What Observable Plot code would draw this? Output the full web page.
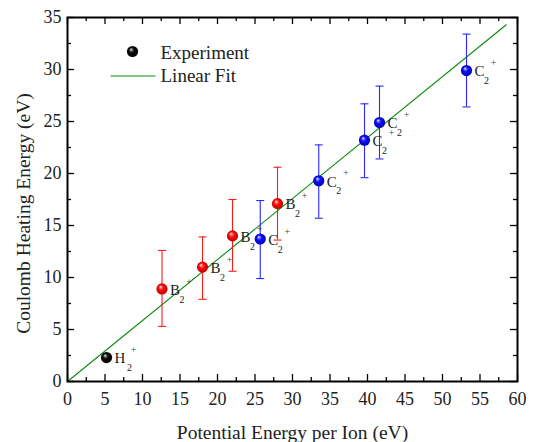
<!DOCTYPE html>
<html><head><meta charset="utf-8">
<script src="https://cdn.jsdelivr.net/npm/d3@7"></script>
<script src="https://cdn.jsdelivr.net/npm/@observablehq/plot@0.6"></script>
<style>body{margin:0;background:#fff}</style>
</head><body><div id="chart"></div>
<script>
// ---- data ----
const species = ["H","B","B","B","C","B","C","C","C","C"];
const energy  = [5.2, 12.6, 18.0, 22.0, 25.7, 28.0, 33.5, 39.6, 41.6, 53.2];
const heating = [2.3, 8.9, 11.0, 14.0, 13.7, 17.1, 19.3, 23.2, 24.9, 29.9];
const errLow  = [null, 5.3, 7.9, 10.6, 9.9, 13.6, 15.7, 19.6, 21.4, 26.4];
const errHigh = [null, 12.6, 13.9, 17.5, 17.4, 20.6, 22.75, 26.7, 28.4, 33.4];
const fitX = [0, 58.5];
const fitY = [0, 34.3];
const xTicks = [0,5,10,15,20,25,30,35,40,45,50,55,60];
const xMinor = [2.5,7.5,12.5,17.5,22.5,27.5,32.5,37.5,42.5,47.5,52.5,57.5];
const yTicks = [0,5,10,15,20,25,30,35];
const yMinor = [2.5,7.5,12.5,17.5,22.5,27.5,32.5];
const subText = "2";
const supText = "+";
const legendLabels = ["Experiment", "Linear Fit"];
const xTitle = "Potential Energy per Ion (eV)";
const yTitle = "Coulomb Heating Energy (eV)";

const data = species.map((s, i) => ({s, x: energy[i], y: heating[i], lo: errLow[i], hi: errHigh[i]}));
const bars = data.filter(d => d.lo != null);
const fit = fitX.map((x, i) => ({x, y: fitY[i]}));
const barColor = {B: "#ff1a1a", C: "#2a2aff", H: "#000"};

const FONT = "Liberation Serif, Times New Roman, serif";
const W = 533, H = 442, mL = 67, mR = 16, mT = 17, mB = 61;
const pw = W - mL - mR, ph = H - mT - mB;
const hline = w => ({draw(ctx) { ctx.moveTo(-w, 0); ctx.lineTo(w, 0); }});
const ball = d => `url(#ball-${d.s})`;
const lab = {x: "x", y: "y", textAnchor: "start", lineAnchor: "middle", fill: "#222", fontFamily: FONT};
const tk = {stroke: "black", strokeWidth: 1.3};

const plot = Plot.plot({
  width: W, height: H,
  marginLeft: mL, marginRight: mR, marginTop: mT, marginBottom: mB,
  x: {domain: [0, 60]},
  y: {domain: [0, 35]},
  color: {type: "identity"},
  style: {fontFamily: FONT, fontSize: "18px", color: "#222", background: "#fff"},
  marks: [
    Plot.axisX({ticks: xTicks, tickSize: 0, tickPadding: 11, label: null, fill: "#222", fontSize: 18, fontFamily: FONT}),
    Plot.axisY({ticks: yTicks, tickSize: 0, tickPadding: 6, label: null, fill: "#222", fontSize: 18, fontFamily: FONT}),
    // inward ticks on all four sides
    Plot.tickX(xTicks, {x: d => d, insetTop: ph - 7, ...tk}),
    Plot.tickX(xTicks, {x: d => d, insetBottom: ph - 7, ...tk}),
    Plot.tickX(xMinor, {x: d => d, insetTop: ph - 4, ...tk}),
    Plot.tickX(xMinor, {x: d => d, insetBottom: ph - 4, ...tk}),
    Plot.tickY(yTicks, {y: d => d, insetRight: pw - 7, ...tk}),
    Plot.tickY(yTicks, {y: d => d, insetLeft: pw - 7, ...tk}),
    Plot.tickY(yMinor, {y: d => d, insetRight: pw - 4, ...tk}),
    Plot.tickY(yMinor, {y: d => d, insetLeft: pw - 4, ...tk}),
    // linear fit
    Plot.line(fit, {x: "x", y: "y", stroke: "#0a8a0a", strokeWidth: 1.1}),
    // error bars
    Plot.ruleX(bars, {x: "x", y1: "lo", y2: "hi", stroke: d => barColor[d.s], strokeWidth: 1.1}),
    Plot.dot(bars, {x: "x", y: "lo", symbol: hline(4), fill: "none", stroke: d => barColor[d.s], strokeWidth: 1.1}),
    Plot.dot(bars, {x: "x", y: "hi", symbol: hline(4), fill: "none", stroke: d => barColor[d.s], strokeWidth: 1.1}),
    // points
    Plot.dot(data, {x: "x", y: "y", r: 5.6, fill: ball, stroke: "none"}),
    // labels
    Plot.text(data, {...lab, text: "s", dx: 8, dy: 1, fontSize: 15}),
    Plot.text(data.filter(d => d.s !== "H"), {...lab, text: () => subText, dx: 17.5, dy: 10.5, fontSize: 10}),
    Plot.text(data.filter(d => d.s === "H"), {...lab, text: () => subText, dx: 20.5, dy: 10.5, fontSize: 10}),
    Plot.text(data, {x: "x", y: "y", text: () => supText, textAnchor: "middle", lineAnchor: "middle", dx: 27, dy: -7.5, fontSize: 10, fill: "#444", fontFamily: FONT}),
    // legend
    Plot.dot([{s: "H"}], {frameAnchor: "top-left", dx: 65, dy: 34, r: 5.6, fill: ball, stroke: "none"}),
    Plot.dot([0], {frameAnchor: "top-left", dx: 65.5, dy: 58.5, symbol: hline(22.5), fill: "none", stroke: "#0a8a0a", strokeWidth: 1.1}),
    Plot.text([legendLabels[0]], {frameAnchor: "top-left", dx: 93, dy: 35, textAnchor: "start", lineAnchor: "middle", fontSize: 19, fill: "#222", fontFamily: FONT}),
    Plot.text([legendLabels[1]], {frameAnchor: "top-left", dx: 93, dy: 58.5, textAnchor: "start", lineAnchor: "middle", fontSize: 19, fill: "#222", fontFamily: FONT}),
    // titles
    Plot.text([xTitle], {frameAnchor: "bottom", textAnchor: "middle", lineAnchor: "middle", dy: 51.5, fontSize: 19.5, fill: "#222", fontFamily: FONT}),
    Plot.text([yTitle], {frameAnchor: "left", textAnchor: "middle", lineAnchor: "middle", rotate: -90, dx: -44, dy: 14, fontSize: 19.5, fill: "#222", fontFamily: FONT}),
    Plot.frame({stroke: "black", strokeWidth: 2})
  ]
});

const defs = d3.select(plot).insert("defs", ":first-child");
function grad(id, stops) {
  const g = defs.append("radialGradient").attr("id", id)
    .attr("cx", 0.5).attr("cy", 0.5).attr("r", 0.55).attr("fx", 0.36).attr("fy", 0.3);
  stops.forEach(([o, c]) => g.append("stop").attr("offset", o).attr("stop-color", c));
}
grad("ball-B", [["0%", "#ffffff"], ["14%", "#ff9090"], ["40%", "#ff1010"], ["100%", "#b00000"]]);
grad("ball-C", [["0%", "#ffffff"], ["14%", "#9090ff"], ["40%", "#1010ff"], ["100%", "#0000a0"]]);
grad("ball-H", [["0%", "#ffffff"], ["14%", "#909090"], ["40%", "#101010"], ["100%", "#000000"]]);

document.getElementById("chart").appendChild(plot);
</script>
</body></html>
